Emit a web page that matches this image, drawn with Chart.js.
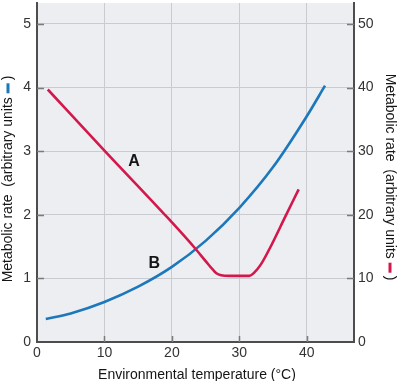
<!DOCTYPE html>
<html>
<head>
<meta charset="utf-8">
<script src="https://cdn.jsdelivr.net/npm/chart.js@4/dist/chart.umd.min.js"></script>
<style>
html,body{margin:0;padding:0;background:#fff;}
#wrap{width:397px;height:381px;position:relative;}
</style>
</head>
<body>
<div id="wrap"><canvas id="c" width="397" height="381"></canvas></div>
<script>
// Data
const xTicks = [0, 10, 20, 30, 40];
const leftTicks = [0, 1, 2, 3, 4, 5];
const rightTicks = [0, 10, 20, 30, 40, 50];
// Curve B (blue, left axis)
const blueTemp = [1.3, 5, 10, 15, 20, 25, 30, 35, 40, 42.7];
const blueRate = [0.36, 0.45, 0.63, 0.87, 1.18, 1.59, 2.11, 2.75, 3.55, 4.03];
// Curve A (red, right axis)
const redTemp = [1.6, 10, 19.4, 23.3, 25.1, 26.05, 26.6, 27.3, 28.5, 31.5, 32.2, 33.2, 34.5, 36.9, 38.8];
const redRate = [39.7, 30.1, 19.5, 14.9, 12.6, 11.4, 10.8, 10.5, 10.4, 10.4, 10.9, 12.2, 14.7, 19.9, 24.0];
const labelA = {text: 'A', x: 14.4, y: 2.84};
const labelB = {text: 'B', x: 17.4, y: 1.24};
const axisTitleX = 'Environmental temperature (°C)';
const axisTitleY = 'Metabolic rate  (arbitrary units ';

const BLUE = '#1c78bb';
const RED = '#d3184b';
const FONT = '"Liberation Sans", Arial, sans-serif';
const TXT = '#151515';

const bluePts = blueTemp.map((t, i) => ({x: t, y: blueRate[i]}));
const redPts = redTemp.map((t, i) => ({x: t, y: redRate[i]}));

const decor = {
  id: 'decor',
  beforeDraw(chart) {
    const {ctx, chartArea: a} = chart;
    ctx.save();
    ctx.fillStyle = '#eceef2';
    ctx.fillRect(a.left, a.top, a.right - a.left, a.bottom - a.top);
    ctx.restore();
  },
  afterDraw(chart) {
    const {ctx, chartArea: a, scales} = chart;
    ctx.save();
    // inward tick marks
    ctx.strokeStyle = '#7a7a7a';
    ctx.lineWidth = 1.5;
    ctx.beginPath();
    leftTicks.forEach(v => { if (v === 0) return; const y = Math.round(scales.y.getPixelForValue(v)) + 0.5; ctx.moveTo(a.left, y); ctx.lineTo(a.left + 7, y); });
    rightTicks.forEach(v => { if (v === 0) return; const y = Math.round(scales.y2.getPixelForValue(v)) + 0.5; ctx.moveTo(a.right - 7, y); ctx.lineTo(a.right, y); });
    xTicks.forEach(v => { if (v === 0) return; const x = Math.round(scales.x.getPixelForValue(v)) + 0.5; ctx.moveTo(x, a.bottom); ctx.lineTo(x, a.bottom - 6); });
    ctx.stroke();

    // A / B labels
    ctx.fillStyle = TXT;
    ctx.font = 'bold 16px ' + FONT;
    ctx.textAlign = 'center';
    ctx.textBaseline = 'middle';
    [labelA, labelB].forEach(l => ctx.fillText(l.text, scales.x.getPixelForValue(l.x), scales.y.getPixelForValue(l.y)));

    // x axis title
    ctx.font = '14px ' + FONT;
    ctx.fillStyle = TXT;
    ctx.fillText(axisTitleX, 197, 375);

    // y axis titles with coloured dash
    function vTitle(cx, cy, angle, color) {
      ctx.save();
      ctx.translate(cx, cy);
      ctx.rotate(angle);
      ctx.font = '14px ' + FONT;
      ctx.textBaseline = 'middle';
      ctx.textAlign = 'left';
      const w1 = ctx.measureText(axisTitleY).width;
      const dash = 10, gap = 3;
      const w2 = ctx.measureText(')').width;
      const total = w1 + dash + gap + w2;
      let x = -total / 2;
      ctx.fillStyle = TXT;
      ctx.fillText(axisTitleY, x, 0);
      x += w1;
      ctx.fillStyle = color;
      ctx.fillRect(x, -1.5, dash, 3);
      x += dash + gap;
      ctx.fillStyle = TXT;
      ctx.fillText(')', x, 0);
      ctx.restore();
    }
    vTitle(8, 179, -Math.PI / 2, BLUE);
    vTitle(390, 177, Math.PI / 2, RED);
    ctx.restore();
  }
};

const tickFont = {family: FONT, size: 14};
function noPad(s) { s.paddingTop = 0; s.paddingBottom = 0; s.paddingLeft = 0; s.paddingRight = 0; }
new Chart(document.getElementById('c'), {
  type: 'line',
  data: {
    datasets: [
      {data: redPts, yAxisID: 'y2', borderColor: RED, borderWidth: 2.6, pointRadius: 0, cubicInterpolationMode: 'monotone', fill: false},
      {data: bluePts, yAxisID: 'y', borderColor: BLUE, borderWidth: 2.6, pointRadius: 0, cubicInterpolationMode: 'monotone', fill: false}
    ]
  },
  options: {
    responsive: false,
    animation: false,
    layout: {padding: {top: 3, left: 0, right: 0, bottom: 0}},
    plugins: {legend: {display: false}, tooltip: {enabled: false}},
    scales: {
      x: {
        type: 'linear', min: 0, max: 47,
        afterBuildTicks: s => { s.ticks = xTicks.map(v => ({value: v})); },
        afterFit: s => { s.height = 39; noPad(s); },
        grid: {color: '#cacbd0', lineWidth: 1, drawTicks: false},
        border: {display: true, color: '#4d4d4d', width: 2},
        ticks: {font: tickFont, color: '#333', padding: 3, maxRotation: 0}
      },
      y: {
        position: 'left', min: 0, max: 5.33,
        afterBuildTicks: s => { s.ticks = leftTicks.map(v => ({value: v})); },
        afterFit: s => { s.width = 37; noPad(s); },
        grid: {color: '#cacbd0', lineWidth: 1, drawTicks: false},
        border: {display: true, color: '#4d4d4d', width: 2},
        ticks: {font: tickFont, color: '#333', padding: 6}
      },
      y2: {
        position: 'right', min: 0, max: 53.3,
        afterBuildTicks: s => { s.ticks = rightTicks.map(v => ({value: v})); },
        afterFit: s => { s.width = 43; noPad(s); },
        grid: {display: false, drawTicks: false},
        border: {display: true, color: '#4d4d4d', width: 2},
        ticks: {font: tickFont, color: '#333', padding: 4}
      }
    }
  },
  plugins: [decor]
});
</script>
</body>
</html>
